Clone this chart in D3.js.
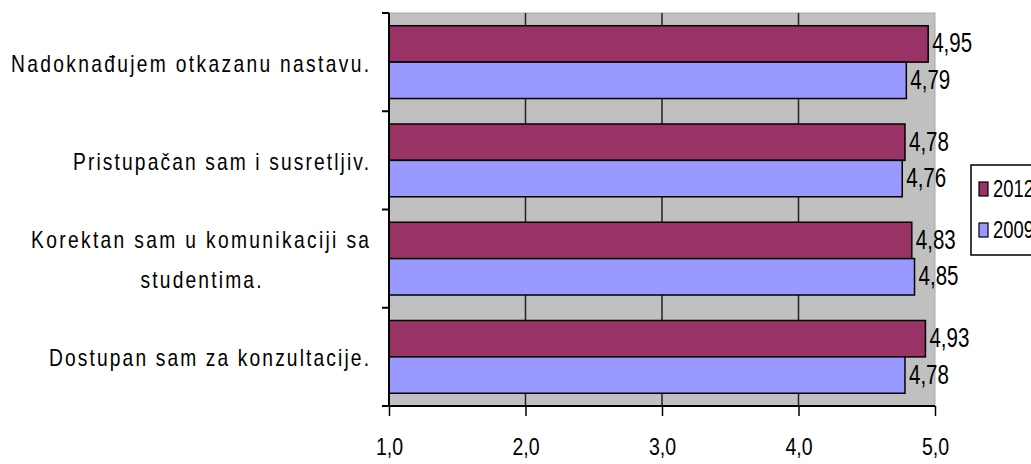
<!DOCTYPE html>
<html><head><meta charset="utf-8">
<script src="https://cdn.jsdelivr.net/npm/d3@7"></script>
<style>body{margin:0;background:#fff}svg{display:block}</style>
</head><body>
<svg id="c" width="1031" height="464"></svg>
<script>
const categories = [
  ["Nadoknađujem otkazanu nastavu."],
  ["Pristupačan sam i susretljiv."],
  ["Korektan sam u komunikaciji sa", "studentima."],
  ["Dostupan sam za konzultacije."]
];
const seriesNames = ["2012", "2009"];
const values2012 = [4.95, 4.78, 4.83, 4.93];
const values2009 = [4.79, 4.76, 4.85, 4.78];
const xTicks = [1, 2, 3, 4, 5];
const colors = ["#993366", "#9999FF"];

(function () {
const svg = d3.select("#c");
const FONT = "'Liberation Sans', Arial, sans-serif";
const pL = 389, pR = 935, pT = 13, pB = 406;

const x = d3.scaleLinear().domain([1, 5]).range([pL, pR]);
const y = d3.scaleBand().domain(d3.range(categories.length)).range([pT, pB]).paddingInner(0).paddingOuter(0);
const inner = d3.scaleBand().domain(seriesNames).range([0, y.bandwidth()]).paddingInner(0).paddingOuter(0.35);

function sText(parent, tx, ty, str, size, sx, anchor, len) {
  const g = parent.append("g").attr("transform", `translate(${tx},${ty}) scale(${sx},1)`);
  const t = g.append("text").attr("x", 0).attr("y", 0).attr("dy", "0.35em")
    .attr("font-family", FONT).attr("font-size", size).attr("fill", "#000")
    .attr("text-anchor", anchor || "start").text(str);
  if (len) t.attr("textLength", len / sx).attr("lengthAdjust", "spacing");
  return t;
}

svg.append("rect").attr("x", pL).attr("y", pT).attr("width", pR - pL).attr("height", pB - pT)
  .attr("fill", "#C0C0C0").attr("stroke", "#A8A8A8").attr("stroke-width", 1);

svg.append("g").selectAll("line").data(xTicks.filter(d => d > 1 && d < 5)).join("line")
  .attr("x1", d => x(d)).attr("x2", d => x(d)).attr("y1", pT).attr("y2", pB)
  .attr("stroke", "#222").attr("stroke-width", 1.5);

const series = [values2012, values2009];
series.forEach((vals, si) => {
  svg.append("g").selectAll("rect").data(vals).join("rect")
    .attr("x", x(1)).attr("y", (d, i) => y(i) + inner(seriesNames[si]))
    .attr("width", d => x(d) - x(1)).attr("height", inner.bandwidth())
    .attr("fill", colors[si]).attr("stroke", "#000").attr("stroke-width", 1.5);
  const lg = svg.append("g");
  vals.forEach((d, i) => {
    sText(lg, x(d) + 4, y(i) + inner(seriesNames[si]) + inner.bandwidth() / 2 - 1,
      d3.format(".2f")(d).replace(".", ","), 27, 0.76, "start");
  });
});

const axL = svg.append("g");
axL.append("line").attr("x1", pL).attr("x2", pL).attr("y1", pT).attr("y2", pB).attr("stroke", "#000").attr("stroke-width", 2);
axL.selectAll("line.t").data(d3.range(categories.length + 1)).join("line").attr("class", "t")
  .attr("x1", pL - 7).attr("x2", pL).attr("y1", i => pT + i * y.step()).attr("y2", i => pT + i * y.step())
  .attr("stroke", "#000").attr("stroke-width", 2);

const axB = svg.append("g").attr("transform", `translate(0,${pB})`)
  .call(d3.axisBottom(x).tickValues(xTicks).tickSize(10).tickSizeOuter(0).tickFormat(""));
axB.select(".domain").attr("stroke", "#000").attr("stroke-width", 2).attr("d", `M${pL - 7},0H${pR}`);
axB.selectAll(".tick line").attr("stroke", "#000").attr("stroke-width", 1.5);
axB.selectAll(".tick").each(function (d) {
  sText(d3.select(this), 0, 41, d3.format(".1f")(d).replace(".", ","), 23, 0.85, "middle");
});

const labelWidths = [[358], [296], [338, 121], [320]];
categories.forEach((lines, i) => {
  const cy = y(i) + y.bandwidth() / 2 + 1;
  const n = lines.length;
  lines.forEach((ln, j) => {
    const yy = cy + (j - (n - 1) / 2) * 40;
    if (n > 1 && j > 0) sText(svg, 201, yy, ln, 24, 0.8, "middle", labelWidths[i][j]);
    else sText(svg, 369, yy, ln, 24, 0.8, "end", labelWidths[i][j]);
  });
});

const leg = svg.append("g");
leg.append("rect").attr("x", 971).attr("y", 165).attr("width", 80).attr("height", 90)
  .attr("fill", "#fff").attr("stroke", "#000").attr("stroke-width", 1.5);
seriesNames.forEach((s, i) => {
  const cy = 189 + i * 41;
  leg.append("rect").attr("x", 979).attr("y", cy - 7).attr("width", 9).attr("height", 14)
    .attr("fill", colors[i]).attr("stroke", "#000").attr("stroke-width", 1.2);
  sText(leg, 993, cy, s, 23, 0.8, "start");
});
})();
</script>
</body></html>
